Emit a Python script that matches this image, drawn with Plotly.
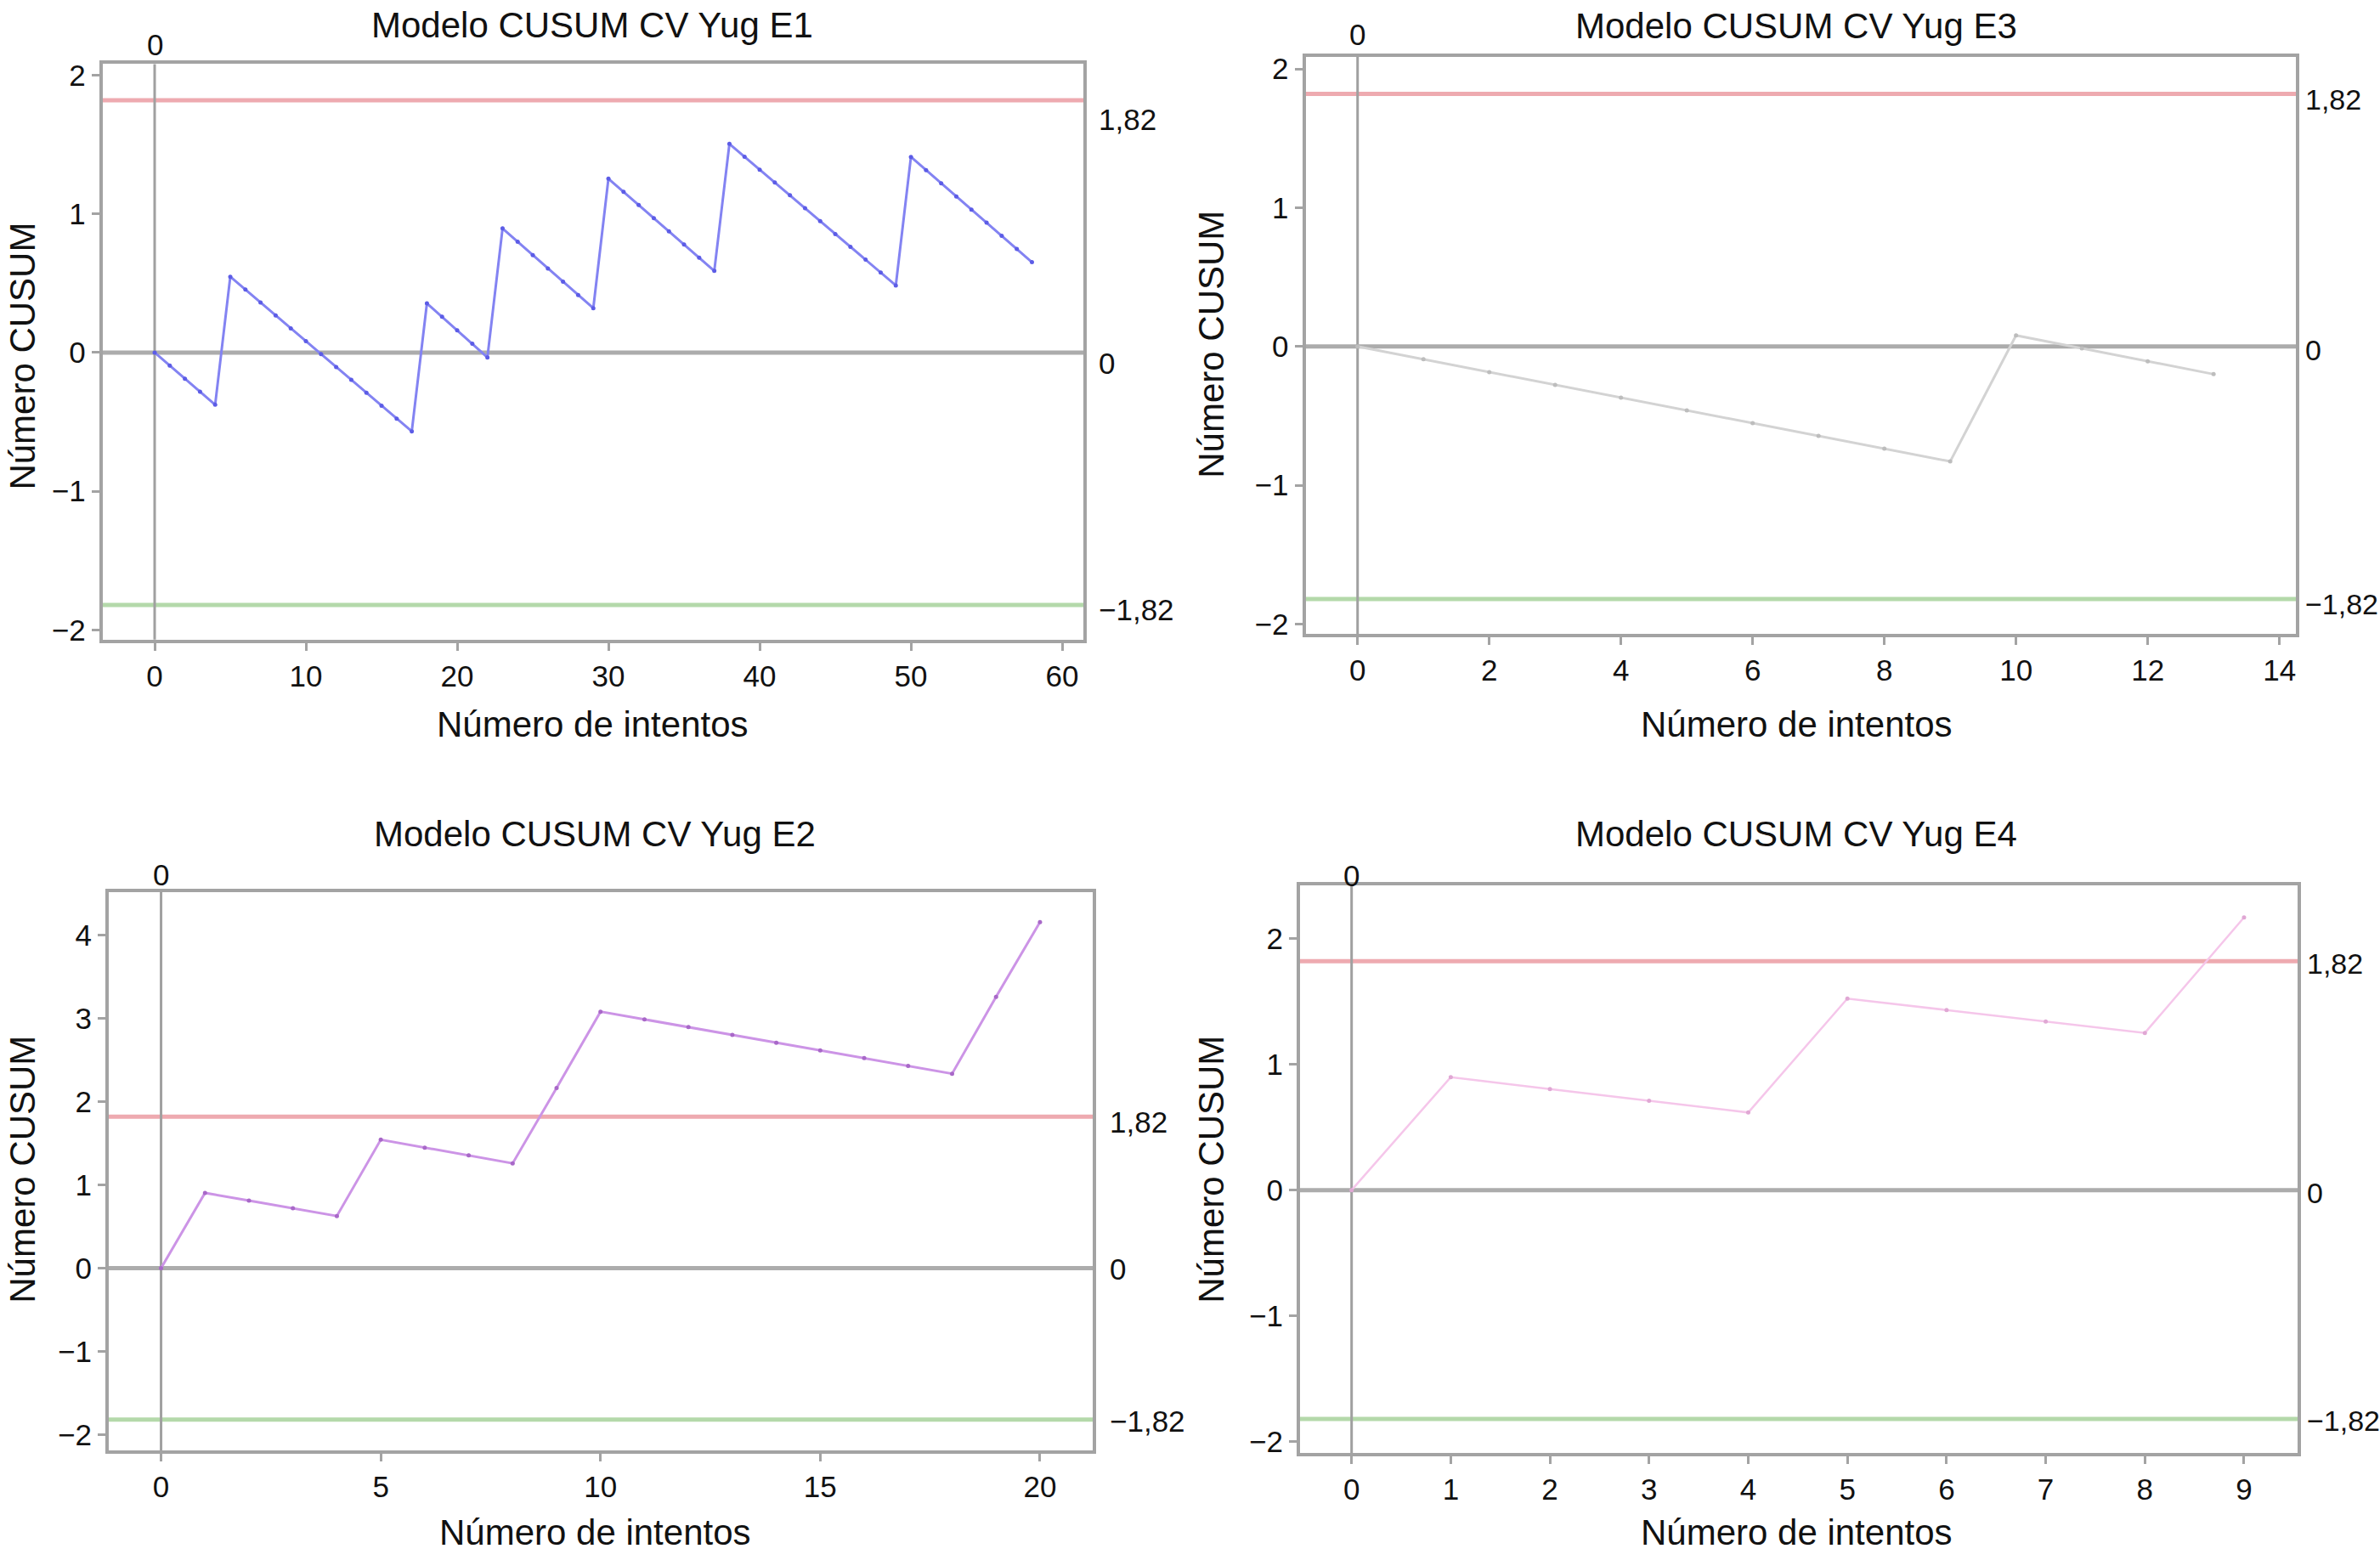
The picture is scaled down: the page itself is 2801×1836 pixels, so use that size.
import plotly.graph_objects as go

# ---------------- data ----------------
e1_x = list(range(0, 59))
e1_y = [0, -0.094, -0.188, -0.282, -0.376, 0.547, 0.454, 0.361, 0.268, 0.175,
        0.082, -0.011, -0.104, -0.197, -0.290, -0.383, -0.476, -0.568, 0.355, 0.258,
        0.161, 0.064, -0.035, 0.895, 0.799, 0.703, 0.607, 0.511, 0.415, 0.320,
        1.254, 1.159, 1.064, 0.969, 0.874, 0.779, 0.684, 0.589, 1.505, 1.412,
        1.319, 1.227, 1.134, 1.041, 0.948, 0.855, 0.763, 0.670, 0.577, 0.484,
        1.411, 1.316, 1.221, 1.126, 1.031, 0.937, 0.842, 0.747, 0.652]

e3_x = list(range(0, 14))
e3_y = [0, -0.092, -0.184, -0.276, -0.368, -0.460, -0.552, -0.644, -0.736, -0.828,
        0.080, -0.013, -0.106, -0.199]

e2_x = list(range(0, 21))
e2_y = [0, 0.905, 0.812, 0.720, 0.627, 1.544, 1.449, 1.355, 1.260, 2.166,
        3.083, 2.990, 2.897, 2.803, 2.710, 2.617, 2.524, 2.430, 2.337, 3.260, 4.160]

e4_x = list(range(0, 10))
e4_y = [0, 0.898, 0.804, 0.711, 0.617, 1.523, 1.432, 1.341, 1.250, 2.168]

limit_upper = 1.82
limit_lower = -1.82
limit_labels = ["1,82", "0", "\u22121,82"]
titles = ["Modelo CUSUM CV Yug E1", "Modelo CUSUM CV Yug E3",
          "Modelo CUSUM CV Yug E2", "Modelo CUSUM CV Yug E4"]
x_title = "Número de intentos"
y_title = "Número CUSUM"

W, H = 2801, 1836
FONT = "Liberation Sans, Arial, Helvetica, sans-serif"
FRAME = "#a3a3a3"

panels = [
    dict(x=e1_x, y=e1_y, color="#8383f2", mcolor="#5c5ce6", lw=3,
         px=(120.6, 1275), py=(69, 752), xr=[-3.45, 61.4], yr=[-2.07, 2.08],
         dtick=10, ytv=[-2, -1, 0, 1, 2],
         title_y=23, title_x=697, xt_y=852, yt=(27, 416), top0=23,
         lab_shift=[-23, -13, -5], lab_x=16, lab_size=35),
    dict(x=e3_x, y=e3_y, color="#d3d3d3", mcolor="#bdbdbd", lw=3,
         px=(1536.5, 2702), py=(60, 745), xr=[-0.79, 14.25], yr=[-2.07, 2.09],
         dtick=2, ytv=[-2, -1, 0, 1, 2],
         title_y=24, title_x=2114, xt_y=852, yt=(1426, 402), top0=26,
         lab_shift=[-6, -4, -6], lab_x=9, lab_size=34),
    dict(x=e2_x, y=e2_y, color="#cc94e6", mcolor="#a868c8", lw=3,
         px=(128, 1286), py=(1051.5, 1714), xr=[-1.19, 21.2], yr=[-2.19, 4.52],
         dtick=5, ytv=[-2, -1, 0, 1, 2, 3, 4],
         title_y=983, title_x=700, xt_y=1811, yt=(27, 1381), top0=20,
         lab_shift=[-6, -1, -2], lab_x=18, lab_size=35),
    dict(x=e4_x, y=e4_y, color="#f5c6ea", mcolor="#e0a8d4", lw=2.5,
         px=(1530, 2704), py=(1044, 1717), xr=[-0.52, 9.54], yr=[-2.09, 2.42],
         dtick=1, ytv=[-2, -1, 0, 1, 2],
         title_y=983, title_x=2114, xt_y=1811, yt=(1426, 1381), top0=12,
         lab_shift=[-3, -3, -2], lab_x=9, lab_size=34),
]

fig = go.Figure()
shapes = []
annotations = []

for i, p in enumerate(panels):
    n = "" if i == 0 else str(i + 1)
    xa, ya = "x" + n, "y" + n
    xdom = [p["px"][0] / W, p["px"][1] / W]
    ydom = [1 - p["py"][1] / H, 1 - p["py"][0] / H]
    axis_common = dict(showline=True, mirror=True, linecolor=FRAME, linewidth=4,
                       showgrid=False, zeroline=False, ticks="outside",
                       ticklen=9, tickwidth=3, tickcolor=FRAME,
                       tickfont=dict(family=FONT, size=35, color="#111111"))
    fig.update_layout(**{
        ("xaxis" + n): dict(domain=xdom, range=p["xr"], dtick=p["dtick"], tick0=0,
                            anchor=ya, **axis_common),
        ("yaxis" + n): dict(domain=ydom, range=p["yr"], tickvals=p["ytv"],
                            anchor=xa, **axis_common),
    })

    # reference lines
    shapes.append(dict(type="line", xref=xa + " domain", yref=ya, x0=0, x1=1,
                       y0=limit_upper, y1=limit_upper,
                       line=dict(color="#eeaab0", width=5), layer="below"))
    shapes.append(dict(type="line", xref=xa + " domain", yref=ya, x0=0, x1=1,
                       y0=limit_lower, y1=limit_lower,
                       line=dict(color="#b4d9aa", width=5), layer="below"))
    shapes.append(dict(type="line", xref=xa + " domain", yref=ya, x0=0, x1=1,
                       y0=0, y1=0, line=dict(color="#acacac", width=5), layer="below"))
    shapes.append(dict(type="line", xref=xa, yref=ya + " domain", x0=0, x1=0,
                       y0=0, y1=1, line=dict(color="#a0a0a0", width=3), layer="below"))

    fig.add_trace(go.Scatter(x=p["x"], y=p["y"], xaxis=xa, yaxis=ya, mode="lines+markers",
                             line=dict(color=p["color"], width=p["lw"]),
                             marker=dict(color=p["mcolor"], size=5),
                             showlegend=False, hoverinfo="skip"))

    # right-hand limit labels
    for val, txt, sh in zip([limit_upper, 0, limit_lower], limit_labels, p["lab_shift"]):
        annotations.append(dict(xref=xa + " domain", yref=ya, x=1, y=val, text=txt,
                                showarrow=False, xanchor="left", yanchor="middle",
                                xshift=p["lab_x"], yshift=sh,
                                font=dict(family=FONT, size=p["lab_size"], color="#111111")))
    # top "0" label
    annotations.append(dict(xref=xa, yref=ya + " domain", x=0, y=1, text="0",
                            showarrow=False, xanchor="center", yanchor="middle",
                            yshift=p["top0"],
                            font=dict(family=FONT, size=35, color="#111111")))
    # titles
    annotations.append(dict(xref="paper", yref="paper", x=p["title_x"] / W,
                            y=1 - p["title_y"] / H, text=titles[i], showarrow=False,
                            xanchor="center", yanchor="middle",
                            font=dict(family=FONT, size=42, color="#111111")))
    annotations.append(dict(xref="paper", yref="paper", x=p["title_x"] / W,
                            y=1 - p["xt_y"] / H, text=x_title, showarrow=False,
                            xanchor="center", yanchor="middle",
                            font=dict(family=FONT, size=42, color="#111111")))
    annotations.append(dict(xref="paper", yref="paper", x=p["yt"][0] / W,
                            y=1 - p["yt"][1] / H, text=y_title, showarrow=False,
                            textangle=-90, xanchor="center", yanchor="middle",
                            font=dict(family=FONT, size=42, color="#111111")))

fig.update_layout(width=W, height=H, margin=dict(l=0, r=0, t=0, b=0),
                  paper_bgcolor="white", plot_bgcolor="white",
                  shapes=shapes, annotations=annotations, showlegend=False)

fig.write_html("out.html", config={"displayModeBar": False},
               post_script="document.body.style.margin='0';document.body.style.overflow='hidden';")
